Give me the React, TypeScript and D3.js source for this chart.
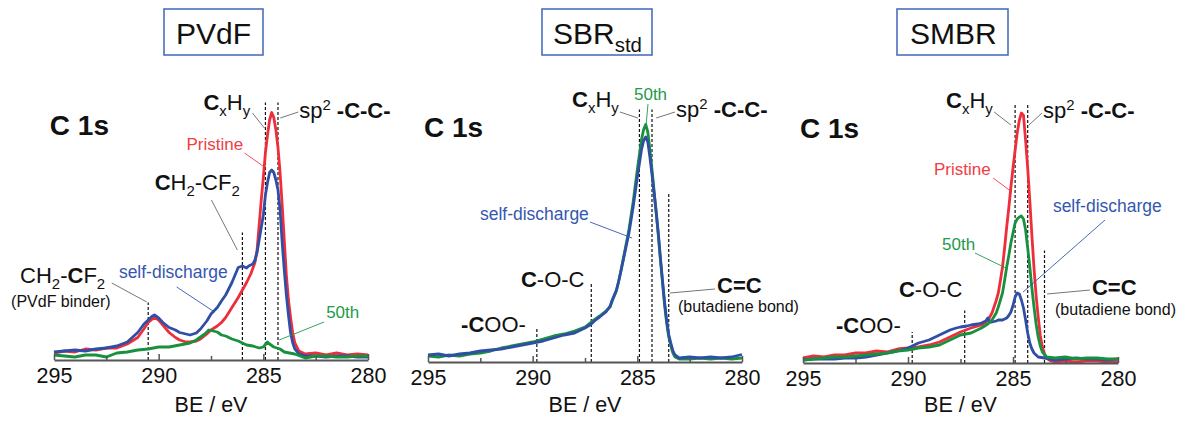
import { useEffect, useRef } from "react";
import * as d3 from "d3";

// binding energy axis (reversed, as usual for XPS)
const beDomain: [number, number] = [295, 280];
const beMajor = [295, 290, 285, 280];
const beMinor = [292.5, 287.5, 282.5];

// ---- PVdF panel spectra, [BE eV, intensity a.u.] ----
const pvdfPristine: [number, number][] = [
  [295, 2.8], [294.5, 3.6], [294, 3.2], [293.5, 4.4], [293, 4], [292.5, 4.8], [292, 4.8],
  [291.5, 6.4], [291, 9], [290.7, 12.5], [290.5, 15], [290.3, 16.4], [290.2, 17], [290, 16],
  [289.8, 14], [289.5, 11], [289.2, 9], [289, 8], [288.7, 7.2], [288.5, 7.2], [288.2, 7.6],
  [288, 8.4], [287.7, 10.4], [287.5, 12], [287.2, 13.6], [287, 15], [286.8, 17], [286.5, 21],
  [286.2, 25], [286, 28], [285.8, 31], [285.6, 34.4], [285.4, 39], [285.3, 44], [285.2, 54],
  [285.1, 64], [285, 73], [284.9, 83], [284.8, 90], [284.7, 96], [284.6, 99], [284.5, 97],
  [284.4, 92], [284.3, 85], [284.2, 75], [284.1, 62], [284, 48], [283.9, 34], [283.8, 24],
  [283.7, 17], [283.6, 11], [283.5, 7], [283.3, 3.6], [283.1, 2.8], [283, 2.4], [282.5, 2.8],
  [282, 2], [281.5, 2.8], [281, 2], [280.5, 2.4], [280, 2],
];
const pvdfSelf: [number, number][] = [
  [295, 3.2], [294.5, 3.6], [294, 4], [293.5, 3.6], [293, 4.4], [292.5, 4.8], [292, 5.6],
  [291.5, 7.2], [291, 11], [290.7, 14.4], [290.5, 16], [290.3, 17.6], [290.2, 18], [290, 16.8],
  [289.8, 15], [289.5, 13], [289.2, 12], [289, 11], [288.7, 10.4], [288.5, 10], [288.2, 10.8],
  [288, 12.4], [287.7, 15.6], [287.5, 18.4], [287.2, 21], [287, 23.6], [286.8, 26],
  [286.5, 31], [286.3, 35], [286.2, 37], [286, 37.6], [285.8, 36.8], [285.7, 37.6],
  [285.5, 38.4], [285.4, 40], [285.3, 43], [285.2, 48], [285.1, 53], [285, 58], [284.9, 66],
  [284.8, 71], [284.7, 75], [284.6, 76], [284.5, 75], [284.4, 72], [284.3, 68], [284.2, 60],
  [284.1, 47], [284, 36], [283.9, 26], [283.8, 18], [283.7, 11], [283.6, 7], [283.5, 4.5],
  [283.3, 2.5], [283, 1.6], [282.5, 1.6], [282, 1.2], [281.5, 1.6], [281, 1.6], [280.5, 1.2],
  [280, 1.2],
];
const pvdf50th: [number, number][] = [
  [295, 2], [294.5, 1.6], [294, 1.2], [293.5, 2], [293, 2], [292.5, 1.2], [292, 2.8],
  [291.5, 3.2], [291, 4], [290.5, 4.4], [290, 5.2], [289.5, 5.2], [289, 6], [288.5, 6.8],
  [288.2, 8], [288, 9.2], [287.8, 10.4], [287.6, 12], [287.4, 11.6], [287.2, 11.2], [287, 10],
  [286.8, 9.6], [286.5, 8.4], [286.2, 7.6], [286, 6.8], [285.8, 6], [285.5, 5.6], [285.2, 4.8],
  [285, 5.2], [284.8, 7.2], [284.7, 6.4], [284.5, 5.2], [284.2, 4.4], [284, 3.2],
  [283.5, 2.4], [283, 0.8], [282.5, 1.6], [282, 1.6], [281.5, 1.2], [281, 1.2], [280.5, 1.6],
  [280, 1.6],
];
const pvdfMarkers = [290.5, 286.0, 284.9, 284.3];
const pvdfMarkerTops = [23, 51, 103, 103];

// ---- SBRstd panel ----
const sbrSelf: [number, number][] = [
  [295, 2.8], [294.5, 3.2], [294, 2.4], [293.5, 3.2], [293, 3.6], [292.5, 4.4], [292, 4.8],
  [291.5, 5.2], [291, 6], [290.5, 6.8], [290, 7.6], [289.5, 8.4], [289, 9.6], [288.5, 10.8],
  [288, 11.6], [287.5, 13.6], [287.2, 15.2], [287, 16.8], [286.8, 18], [286.5, 20],
  [286.3, 22.4], [286.2, 24.8], [286, 28.8], [285.9, 32], [285.8, 35.6], [285.6, 43.6],
  [285.4, 51.6], [285.2, 62], [285, 74], [284.8, 85], [284.7, 88.5], [284.6, 90], [284.5, 88],
  [284.4, 82], [284.3, 75], [284.2, 67.6], [284.1, 60], [284, 51.6], [283.9, 42], [283.8, 32.8],
  [283.7, 24], [283.6, 16.8], [283.5, 11], [283.4, 7.6], [283.3, 4.5], [283.2, 2.8], [283, 1.6],
  [282.5, 2], [282, 1.6], [281.5, 2], [281, 1.6], [280.5, 2], [280, 3],
];
const sbr50th: [number, number][] = [
  [295, 2.4], [294.5, 2], [294, 2.8], [293.5, 2.4], [293, 3.2], [292.5, 3.6], [292, 4.4],
  [291.5, 5.6], [291, 6.4], [290.5, 7.2], [290, 8], [289.5, 9.2], [289, 10.4], [288.5, 11.2],
  [288, 12.4], [287.5, 14], [287.2, 16], [287, 17.2], [286.8, 18.4], [286.5, 20.4], [286.3, 22],
  [286.2, 24.4], [286, 28.4], [285.9, 32], [285.8, 36], [285.6, 44.4], [285.4, 53], [285.2, 64],
  [285, 77], [284.8, 89], [284.7, 93], [284.6, 95], [284.5, 92], [284.4, 85], [284.3, 77],
  [284.2, 68.4], [284.1, 60], [284, 51], [283.9, 41], [283.8, 32], [283.7, 23], [283.6, 15.6],
  [283.5, 10], [283.4, 6.4], [283.3, 3.6], [283.2, 2], [283, 1.2], [282.5, 1.2], [282, 1.6],
  [281.5, 1.2], [281, 1.6], [280.5, 1.2], [280, 1.6],
];
const sbrMarkers = [289.8, 287.2, 284.9, 284.3, 283.5];
const sbrMarkerTops = [14, 32, 101, 101, 68];

// ---- SMBR panel ----
const smbrPristine: [number, number][] = [
  [295, 2], [294.5, 2.8], [294, 2.4], [293.5, 3.2], [293, 3.2], [292.5, 4], [292, 4],
  [291.5, 4.8], [291, 4.4], [290.5, 5.6], [290, 6], [289.5, 6.4], [289, 7.2], [288.5, 8.4],
  [288, 10.4], [287.5, 12.4], [287, 14], [286.5, 15.2], [286.2, 17], [286, 20], [285.8, 25],
  [285.7, 28], [285.6, 33], [285.5, 38.4], [285.4, 46], [285.3, 54.4], [285.2, 62],
  [285.1, 70.4], [285, 78], [284.9, 85], [284.8, 92], [284.7, 97], [284.6, 100], [284.5, 99],
  [284.4, 89], [284.3, 78], [284.2, 65], [284.1, 51], [284, 38], [283.9, 27], [283.8, 18.4],
  [283.7, 11], [283.6, 6.4], [283.5, 3.5], [283.4, 2], [283.2, 0.8], [283, 0.4], [282.5, 0.8],
  [282, 0.4], [281.5, 0.8], [281, 0.8], [280.5, 0.4], [280, 0.4],
];
const smbr50th: [number, number][] = [
  [295, 1.2], [294.5, 1.6], [294, 2], [293.5, 2.4], [293, 2.4], [292.5, 2.8], [292, 3.2],
  [291.5, 3.6], [291, 4], [290.5, 4.8], [290, 5.2], [289.5, 6], [289, 6.4], [288.5, 7.2],
  [288, 9.2], [287.5, 11.2], [287, 12], [286.5, 14], [286.2, 15.6], [286, 17.2], [285.8, 20],
  [285.7, 22.4], [285.5, 28], [285.4, 33], [285.3, 38.4], [285.2, 43], [285.1, 48], [285, 52],
  [284.9, 56], [284.8, 57.6], [284.7, 58.4], [284.6, 58.8], [284.5, 57.6], [284.4, 53.2],
  [284.3, 46], [284.2, 38.4], [284.1, 30], [284, 22.4], [283.9, 15.6], [283.8, 10.4],
  [283.7, 6.8], [283.6, 4.4], [283.4, 2.4], [283, 2], [282.5, 2.4], [282, 1.6], [281.5, 2],
  [281, 2], [280.5, 1.6], [280, 1.6],
];
const smbrSelf: [number, number][] = [
  [295, 1.2], [294.5, 1.6], [294, 1.6], [293.5, 1.6], [293, 2], [292.5, 2], [292, 2.4],
  [291.5, 3.2], [291, 4], [290.5, 4.8], [290, 6], [289.5, 8], [289, 9.2], [288.5, 11.2],
  [288, 13.2], [287.7, 14], [287.5, 14.4], [287.2, 14.8], [287, 15.2], [286.7, 15.6],
  [286.5, 16], [286.3, 16.8], [286.2, 18], [286.1, 16.4], [286, 16.4], [285.8, 16.8],
  [285.7, 17.2], [285.5, 17.2], [285.3, 18], [285.2, 19], [285.1, 20.4], [285, 23],
  [284.9, 26.4], [284.8, 28], [284.7, 27.6], [284.6, 25.2], [284.5, 22], [284.4, 17.2],
  [284.3, 12], [284.2, 8], [284.1, 5.6], [284, 4], [283.8, 2.4], [283.5, 2], [283, 1.2],
  [282.5, 1.6], [282, 2], [281.5, 1.6], [281, 1.6], [280.5, 1.2], [280, 1.6],
];
const smbrMarkers = [289.8, 287.3, 284.9, 284.3, 283.5];
const smbrMarkerTops = [12.4, 21, 104, 104, 45];

const RED = "#ee2e3b";
const BLUE = "#2f4fa6";
const GREEN = "#18913e";
const RED_T = "#f03c44";
const BLUE_T = "#3557b0";
const GREEN_T = "#1e9a4a";
const GREY = "#666";
const FONT = "'Liberation Sans', Arial, sans-serif";

type Seg = { t: string; b?: boolean; sub?: boolean; sup?: boolean };
type Label = { segs: Seg[]; at: [number, number]; size: number; color?: string };
type Leader = { from: [number, number]; to: [number, number]; color?: string };
type Series = { data: [number, number][]; color: string };

const Rich = ({ x, y, segs, size, color = "#111" }: any) => {
  let shift = 0;
  return (
    <text x={x} y={y} fontSize={size} fill={color} fontFamily={FONT}>
      {segs.map((s: Seg, i: number) => {
        const target = s.sub ? size * 0.28 : s.sup ? -size * 0.38 : 0;
        const dy = target - shift;
        shift = target;
        return (
          <tspan
            key={i}
            dy={dy}
            fontWeight={s.b ? "bold" : "normal"}
            fontSize={s.sub || s.sup ? size * 0.68 : size}
          >
            {s.t}
          </tspan>
        );
      })}
    </text>
  );
};

const Panel = ({ left, right, base, series, markers, markerTops, labels, leaders, title }: any) => {
  const axisRef = useRef<SVGGElement>(null);
  const x = d3.scaleLinear().domain(beDomain).range([left, right]);
  const y = d3.scaleLinear().domain([0, 100]).range([base, base - 250]);
  const line = d3
    .line<[number, number]>()
    .x((d) => x(d[0]))
    .y((d) => y(d[1]));

  useEffect(() => {
    const g = d3.select(axisRef.current);
    g.selectAll("*").remove();
    const major = g
      .append("g")
      .call(d3.axisBottom(x).tickValues(beMajor).tickSizeInner(-6).tickSizeOuter(0).tickPadding(8).tickFormat(d3.format("d")));
    major.select(".domain").attr("stroke", "#555").attr("stroke-width", 2);
    major.selectAll(".tick line").attr("stroke", "#555").attr("stroke-width", 1.5);
    major
      .selectAll(".tick text")
      .attr("font-size", 21.5)
      .attr("font-family", FONT)
      .attr("fill", "#111");
    const minor = g
      .append("g")
      .call(d3.axisBottom(x).tickValues(beMinor).tickSizeInner(-4).tickSizeOuter(0).tickFormat(() => ""));
    minor.select(".domain").remove();
    minor.selectAll(".tick line").attr("stroke", "#555").attr("stroke-width", 1.5);
  }, []);

  return (
    <g>
      <rect x={title.x} y={9} width={title.w} height={46} fill="none" stroke="#4a6fc0" strokeWidth={1.6} />
      <Rich x={title.x + title.w / 2 - title.tw / 2} y={44} segs={title.segs} size={30} />

      {markers.map((m: number, i: number) => (
        <line
          key={i}
          x1={x(m)}
          x2={x(m)}
          y1={y(0)}
          y2={y(markerTops[i])}
          stroke="#111"
          strokeWidth={1.2}
          strokeDasharray="3,2"
        />
      ))}

      {series.map((s: Series, i: number) => (
        <path key={i} d={line(s.data) ?? ""} fill="none" stroke={s.color} strokeWidth={2.8} strokeLinejoin="round" />
      ))}

      <g ref={axisRef} transform={`translate(0,${base})`} />

      <text
        x={(left + right) / 2}
        y={412}
        textAnchor="middle"
        fontSize={21.5}
        fontFamily={FONT}
        fill="#111"
      >
        BE / eV
      </text>

      {leaders.map((l: Leader, i: number) => (
        <line
          key={i}
          x1={x(l.from[0])}
          y1={y(l.from[1])}
          x2={x(l.to[0])}
          y2={y(l.to[1])}
          stroke={l.color ?? GREY}
          strokeWidth={0.9}
        />
      ))}

      {labels.map((l: Label, i: number) => (
        <Rich key={i} x={x(l.at[0])} y={y(l.at[1])} segs={l.segs} size={l.size} color={l.color} />
      ))}
    </g>
  );
};

const c1s: Seg[] = [{ t: "C 1s", b: true }];
const cxhy: Seg[] = [{ t: "C", b: true }, { t: "x", sub: true }, { t: "H" }, { t: "y", sub: true }];
const sp2: Seg[] = [{ t: "sp" }, { t: "2", sup: true }, { t: " -C-C-", b: true }];
const coc: Seg[] = [{ t: "C", b: true }, { t: "-O-C" }];
const coo: Seg[] = [{ t: "-C", b: true }, { t: "OO-" }];
const cc: Seg[] = [{ t: "C=C", b: true }];
const butadiene: Seg[] = [{ t: "(butadiene bond)" }];

export default function App() {
  return (
    <svg
      width={1191}
      height={423}
      style={{ position: "absolute", left: 0, top: 0, background: "#fff" }}
    >
      <Panel
        left={54}
        right={368}
        base={360}
        title={{ x: 164, w: 99, tw: 75, segs: [{ t: "PVdF" }] }}
        series={[
          { data: pvdfPristine, color: RED },
          { data: pvdfSelf, color: BLUE },
          { data: pvdf50th, color: GREEN },
        ]}
        markers={pvdfMarkers}
        markerTops={pvdfMarkerTops}
        leaders={[
          { from: [285.52, 98.8], to: [284.95, 92.8] },
          { from: [283.33, 99.2], to: [284.19, 96.8] },
          { from: [285.9, 82.8], to: [284.95, 77.2], color: RED_T },
          { from: [287.48, 64], to: [286.24, 44] },
          { from: [289.14, 29.2], to: [287.33, 19.2], color: BLUE_T },
          { from: [292.24, 30.8], to: [290.57, 23.2] },
          { from: [282.1, 15.2], to: [284.24, 8], color: GREEN_T },
        ]}
        labels={[
          { segs: c1s, at: [295.2, 90], size: 28 },
          { segs: cxhy, at: [287.86, 100], size: 22 },
          { segs: sp2, at: [283.29, 96.8], size: 22 },
          { segs: [{ t: "Pristine" }], at: [288.67, 84], size: 17, color: RED_T },
          {
            segs: [{ t: "C", b: true }, { t: "H" }, { t: "2", sub: true }, { t: "-CF" }, { t: "2", sub: true }],
            at: [290.19, 68],
            size: 22,
          },
          { segs: [{ t: "self-discharge" }], at: [291.9, 32.8], size: 17.5, color: BLUE_T },
          {
            segs: [{ t: "CH" }, { t: "2", sub: true }, { t: "-" }, { t: "C", b: true }, { t: "F" }, { t: "2", sub: true }],
            at: [296.62, 30.8],
            size: 22,
          },
          { segs: [{ t: "(PVdF binder)" }], at: [297.05, 21.2], size: 16 },
          { segs: [{ t: "50th" }], at: [282, 16.8], size: 17, color: GREEN_T },
        ]}
      />
      <Panel
        left={428}
        right={742}
        base={362}
        title={{ x: 542, w: 110, tw: 88, segs: [{ t: "SBR" }, { t: "std", sub: true }] }}
        series={[
          { data: sbr50th, color: GREEN },
          { data: sbrSelf, color: BLUE },
        ]}
        markers={sbrMarkers}
        markerTops={sbrMarkerTops}
        leaders={[
          { from: [285.83, 100], to: [284.97, 97.6] },
          { from: [284.49, 103.2], to: [284.59, 94], color: GREEN_T },
          { from: [283.2, 100], to: [284.1, 97.6] },
          { from: [287.26, 56], to: [285.25, 49.6], color: BLUE_T },
          { from: [281.29, 29.2], to: [283.44, 27.6] },
        ]}
        labels={[
          { segs: c1s, at: [295.19, 90], size: 28 },
          { segs: cxhy, at: [288.12, 102], size: 22 },
          { segs: [{ t: "50th" }], at: [285.16, 104.8], size: 17, color: GREEN_T },
          { segs: sp2, at: [283.15, 98], size: 22 },
          { segs: [{ t: "self-discharge" }], at: [292.52, 56.8], size: 17.5, color: BLUE_T },
          { segs: coc, at: [290.56, 30], size: 22 },
          { segs: coo, at: [293.42, 12], size: 22 },
          { segs: cc, at: [281.19, 27.6], size: 22 },
          { segs: butadiene, at: [283.06, 20], size: 16 },
        ]}
      />
      <Panel
        left={803}
        right={1118}
        base={363}
        title={{ x: 897, w: 111, tw: 85, segs: [{ t: "SMBR" }] }}
        series={[
          { data: smbrPristine, color: RED },
          { data: smbrSelf, color: BLUE },
          { data: smbr50th, color: GREEN },
        ]}
        markers={smbrMarkers}
        markerTops={smbrMarkerTops}
        leaders={[
          { from: [285.9, 100.4], to: [285.1, 95.2] },
          { from: [283.62, 100], to: [284.24, 95.2] },
          { from: [285.95, 74], to: [285.05, 68.4], color: RED_T },
          { from: [280.62, 57.2], to: [284.52, 28.4], color: BLUE_T },
          { from: [286.81, 44], to: [285.24, 37.6], color: GREEN_T },
          { from: [281.33, 29.2], to: [283.38, 27.6] },
        ]}
        labels={[
          { segs: c1s, at: [295.14, 90], size: 28 },
          { segs: cxhy, at: [288.19, 102], size: 22 },
          { segs: sp2, at: [283.57, 98], size: 22 },
          { segs: [{ t: "Pristine" }], at: [288.76, 75.2], size: 17, color: RED_T },
          { segs: [{ t: "self-discharge" }], at: [283.1, 60.4], size: 17.5, color: BLUE_T },
          { segs: [{ t: "50th" }], at: [288.38, 45.2], size: 17, color: GREEN_T },
          { segs: coc, at: [290.43, 26.4], size: 22 },
          { segs: coo, at: [293.43, 12], size: 22 },
          { segs: cc, at: [281.24, 27.2], size: 22 },
          { segs: butadiene, at: [283, 19.2], size: 16 },
        ]}
      />
    </svg>
  );
}
